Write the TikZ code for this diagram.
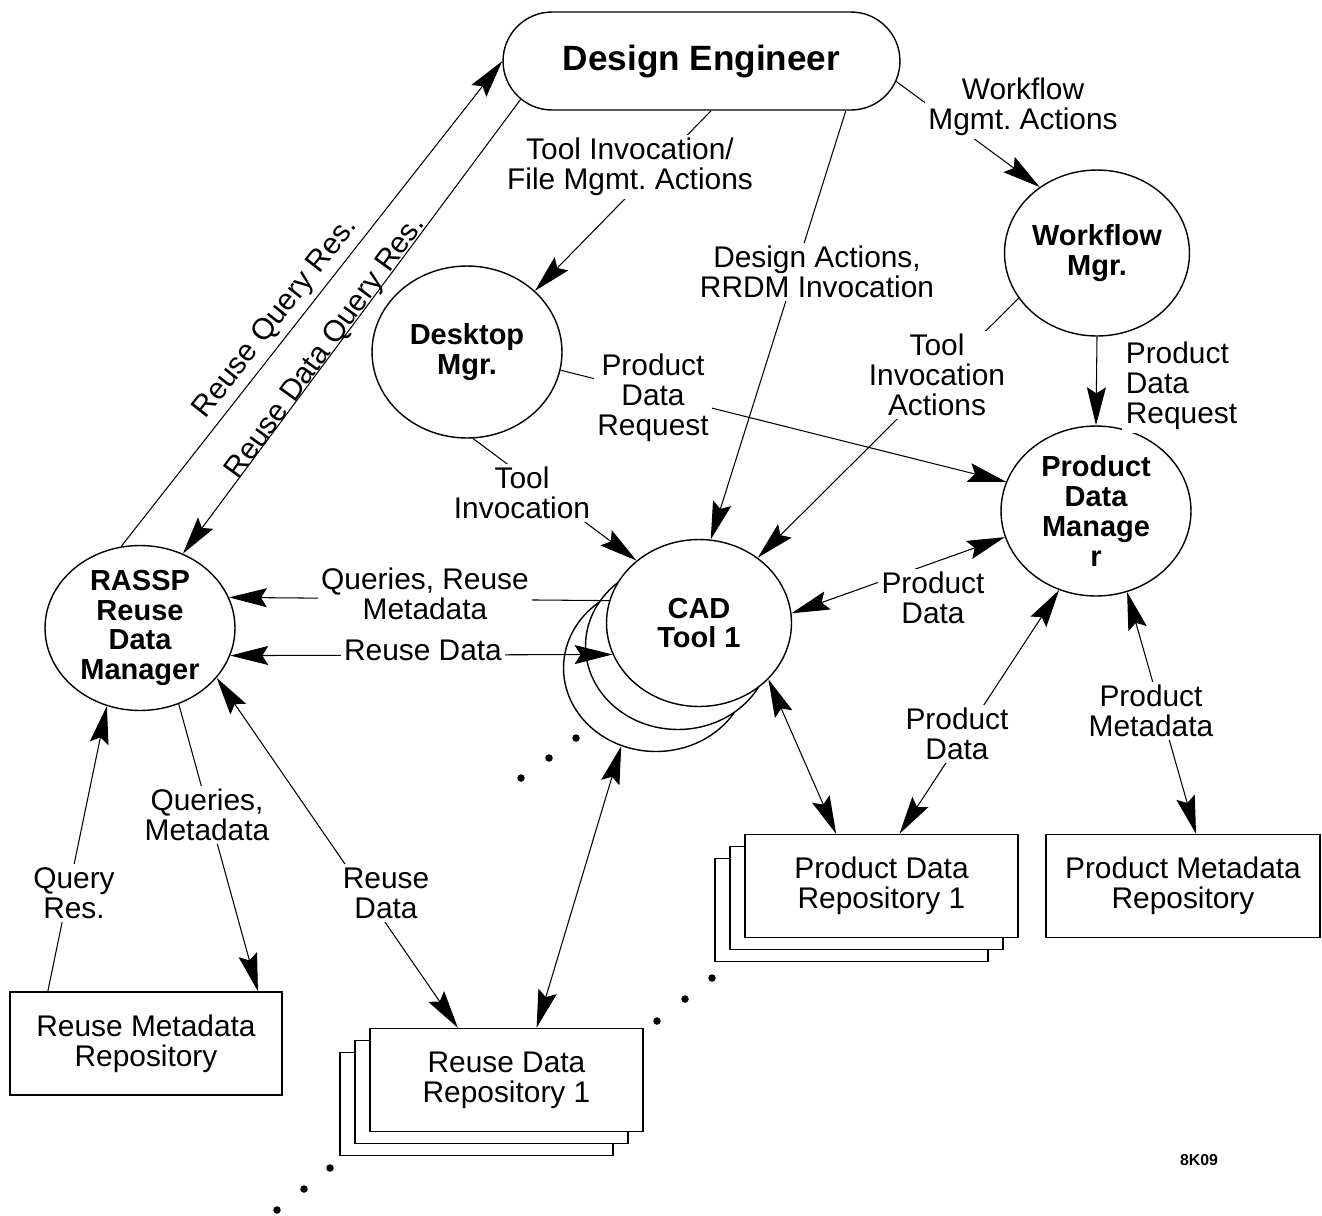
\documentclass[tikz,border=0pt]{standalone}
\usepackage{fontspec}
\setmainfont{Liberation Sans}
\usetikzlibrary{arrows.meta, shapes.geometric, shapes.misc}
\frenchspacing

\tikzset{
  proc/.style={draw, ellipse, fill=white, line width=0.8pt, inner sep=0pt, align=center,
    font=\fontsize{16.5}{17}\selectfont\bfseries},
  store/.style={draw, rectangle, fill=white, line width=0.8pt, minimum width=5.46cm,
    minimum height=2.06cm, align=center, font=\fontsize{17}{17}\selectfont},
  lbl/.style={fill=white, inner sep=2pt, align=center, font=\fontsize{17}{17}\selectfont},
  slbl/.style={inner sep=0pt, font=\fontsize{17}{17}\selectfont},
  tip/.tip={Stealth[length=0.76cm, width=0.38cm, inset=0.12cm]},
  flow/.style={-tip, line width=0.6pt},
  twoway/.style={tip-tip, line width=0.6pt},
  dot/.style={circle, fill, inner sep=0pt, minimum size=0.15cm}
}

\begin{document}
\begin{tikzpicture}[x=0.02cm, y=-0.02cm]
        \useasboundingbox (0,0) rectangle (1322,1215);

        % Repository stacks
        \node (rdrc) at (476.5,1104) [store] {};
        \node (rdrb) at (491.5,1092) [store] {};
        \node (rdr) at (506.5,1080) [store] {Reuse Data\\Repository 1};
        \node (pdrc) at (851.5,910) [store] {};
        \node (pdrb) at (866.5,898) [store] {};
        \node (pdr) at (881.5,886) [store] {Product Data\\Repository 1};
        \node (rmr) at (146,1043.5) [store, minimum width=5.44cm] {Reuse Metadata\\Repository};
        \node (pmr) at (1183,886) [store, minimum width=5.48cm] {Product Metadata\\Repository};

        % CAD tool stack
        \node (cadc) at (656,668) [proc, minimum width=3.7cm, minimum height=3.34cm] {};
        \node (cadb) at (678,646) [proc, minimum width=3.7cm, minimum height=3.34cm] {};
        \node (cad) at (699,623) [proc, minimum width=3.7cm, minimum height=3.34cm] {CAD\\Tool 1};

        % Managers and engineer
        \node (de) at (701.5,61) [draw, rounded rectangle, line width=0.8pt, inner sep=0pt,
            minimum width=7.94cm, minimum height=1.96cm, font=\fontsize{20}{24}\selectfont\bfseries]
            {Design Engineer};
        \node (desk) at (467,352) [proc, minimum width=3.8cm, minimum height=3.44cm] {Desktop\\Mgr.};
        \node (wfm) at (1097,253) [proc, minimum width=3.7cm, minimum height=3.32cm] {Workflow\\Mgr.};
        \node (pdm) at (1096,511) [proc, minimum width=3.8cm, minimum height=3.4cm] {Product\\Data\\Manage\\r};
        \node (rassp) at (140,628) [proc, minimum width=3.8cm, minimum height=3.3cm] {RASSP\\Reuse\\Data\\Manager};

        % Flows
        \draw[flow] (rassp.103) -- (de.west);
        \draw[flow] (de.192) -- (rassp.60);
        \draw[flow] (de.281) -- (desk.42);
        \draw[flow] (de.341) -- (cad.82);
        \draw[flow] (de.354) -- (wfm.131);
        \draw[flow] (desk.349.5) -- (pdm.162);
        \draw[flow] (desk.274) -- (cad.135.5);
        \draw[flow] (wfm.210.5) -- (cad.48);
        \draw[flow] (wfm.south) -- (pdm.north);
        \draw[twoway] (cad.6) -- (pdm.196);
        \draw[twoway] (cad.321) -- (pdr.131);
        \draw[twoway] (pdm.245) -- (pdr.71);
        \draw[twoway] (pdm.291) -- (pmr.76);
        \draw[flow] (cad.166) -- (rassp.19);
        \draw[twoway] (rassp.343.3) -- (cad.200);
        \draw[flow] (rassp.297.7) -- (rmr.25.5);
        \draw[flow] (rmr.152.5) -- (rassp.247.6);
        \draw[twoway] (rassp.327.6) -- (rdr.133.6);
        \draw[twoway] (cadc.246.3) -- (rdr.60);

        % Flow labels
        \node (l1) at (630,167) [lbl] {Tool Invocation/\\File Mgmt. Actions};
        \node (l2) at (817,272) [lbl] {Design Actions,\\RRDM Invocation};
        \node (l3) at (1023,107) [lbl] {Workflow\\Mgmt. Actions};
        \node (l4) at (653,398) [lbl] {Product\\Data\\Request};
        \node (l5) at (522,493) [lbl] {Tool\\Invocation};
        \node (l6) at (937,375) [lbl] {Tool\\Invocation\\Actions};
        \node (l7) at (1122,386) [lbl, anchor=west, align=left] {Product\\Data\\Request};
        \node (l8) at (933,598) [lbl] {Product\\Data};
        \node (l9) at (957,734) [lbl] {Product\\Data};
        \node (l10) at (1151,711) [lbl] {Product\\Metadata};
        \node (l11) at (425,594) [lbl] {Queries, Reuse\\Metadata};
        \node (l12) at (423,650) [lbl] {Reuse Data};
        \node (l13) at (207,815) [lbl] {Queries,\\Metadata};
        \node (l14) at (74,893) [lbl] {Query\\Res.};
        \node (l15) at (386,893) [lbl] {Reuse\\Data};
        \node (l16) at (276,318) [slbl, rotate=51.8] {Reuse Query Res.};
        \node (l17) at (326,348) [slbl, rotate=53.9] {Reuse Data Query Res.};

        % More of the same
        \node (d1) at (576,738) [dot] {};
        \node (d2) at (549,758) [dot] {};
        \node (d3) at (521,778) [dot] {};
        \node (d4) at (712,978) [dot] {};
        \node (d5) at (685,999) [dot] {};
        \node (d6) at (657,1021) [dot] {};
        \node (d7) at (330,1168) [dot] {};
        \node (d8) at (304,1189) [dot] {};
        \node (d9) at (277,1210) [dot] {};

        \node (tag) at (1199,1160) [font=\fontsize{9}{10}\selectfont\bfseries] {8K09};
    \end{tikzpicture}
\end{document}
